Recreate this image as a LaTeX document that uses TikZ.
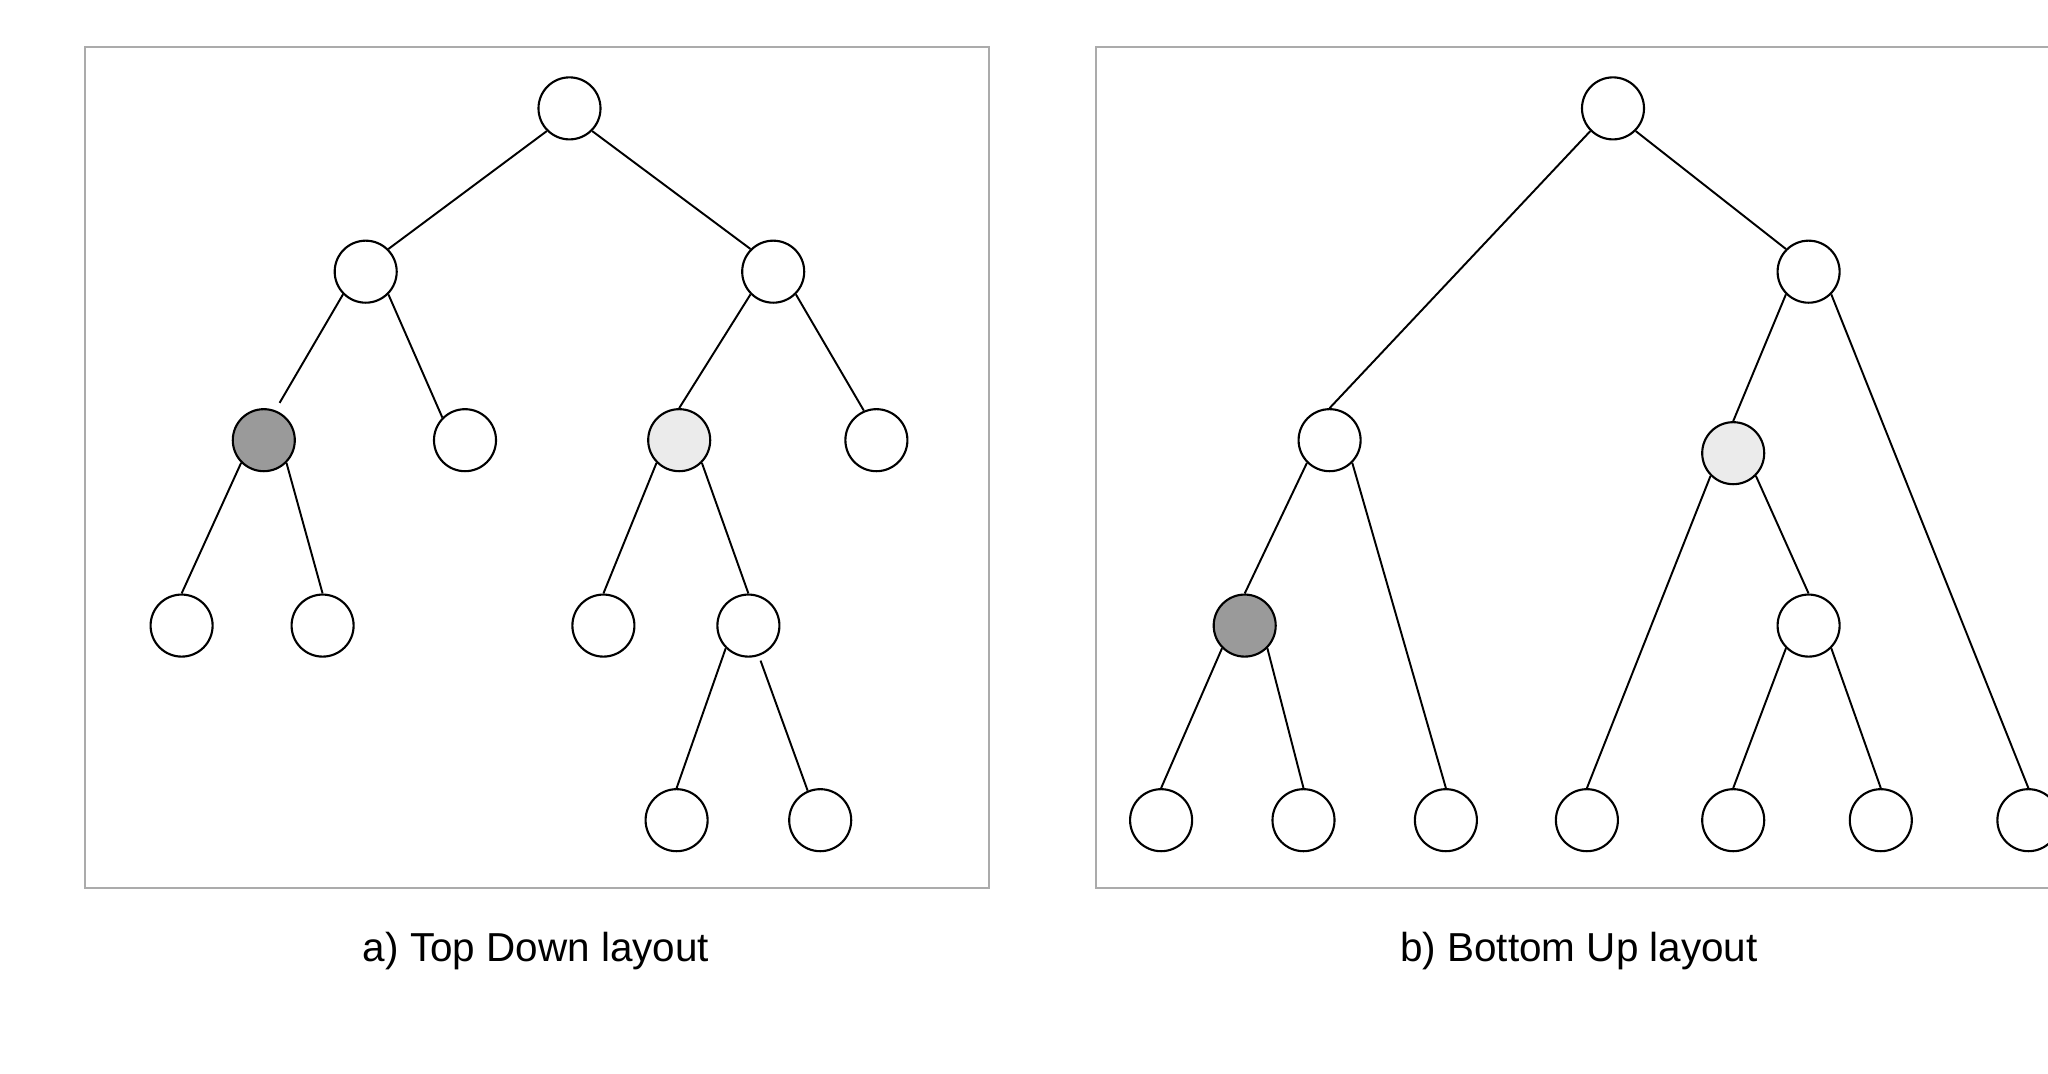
\documentclass[tikz,border=0pt]{standalone}
\usepackage{fontspec}
\setmainfont{Liberation Sans}
\usepackage{xcolor}
\usepackage{tikz}

\definecolor{framegray}{HTML}{ABABAB}
\definecolor{darknode}{HTML}{9A9A9A}
\definecolor{lightnode}{HTML}{EBEBEB}

\begin{document}
\begin{tikzpicture}[x=0.01cm, y=-0.01cm, line width=0.55pt,
        vertex/.style={circle, draw, fill=white, minimum size=0.62cm, inner sep=0pt, line width=0.6pt},
        caption/.style={anchor=base, font=\fontsize{11.5}{14}\selectfont}]
        \useasboundingbox (0,0) rectangle (2048,1074);

        % Frames.
        \draw[framegray, line width=0.45pt] (85,47) rectangle (989,888);
        \draw[framegray, line width=0.45pt] (2060,47) -- (1096,47) -- (1096,888) -- (2060,888);

        % Top down layout.
        \draw (569.5,108.4) node[vertex, anchor=center] (a1) {};
        \draw (365.7,271.7) node[vertex, anchor=center] (a2) {};
        \draw (773.2,271.7) node[vertex, anchor=center] (a3) {};
        \draw (263.8,440.2) node[vertex, anchor=center, fill=darknode] (a4) {};
        \draw (465.0,440.2) node[vertex, anchor=center] (a5) {};
        \draw (679.2,440.2) node[vertex, anchor=center, fill=lightnode] (a6) {};
        \draw (876.4,440.2) node[vertex, anchor=center] (a7) {};
        \draw (181.6,625.6) node[vertex, anchor=center] (a8) {};
        \draw (322.6,625.6) node[vertex, anchor=center] (a9) {};
        \draw (603.4,625.6) node[vertex, anchor=center] (a10) {};
        \draw (748.4,625.6) node[vertex, anchor=center] (a11) {};
        \draw (676.6,820.2) node[vertex, anchor=center] (a12) {};
        \draw (820.2,820.2) node[vertex, anchor=center] (a13) {};
        \draw (a1.south west) -- (a2.north east);
        \draw (a1.south east) -- (a3.north west);
        \draw[shorten >=0.85mm] (a2.south west) -- (a4.69);
        \draw (a2.south east) -- (a5.north west);
        \draw (a3.south west) -- (a6.north);
        \draw (a3.south east) -- (a7.113);
        \draw (a4.south west) -- (a8.north);
        \draw (a4.south east) -- (a9.north);
        \draw (a6.south west) -- (a10.north);
        \draw (a6.south east) -- (a11.north);
        \draw (a11.south west) -- (a12.north);
        \draw[shorten <=0.5mm] (a11.289) -- (a13.113);

        % Bottom up layout.
        \draw (1613.0,108.4) node[vertex, anchor=center] (b1) {};
        \draw (1808.6,271.7) node[vertex, anchor=center] (b2) {};
        \draw (1329.6,440.2) node[vertex, anchor=center] (b3) {};
        \draw (1733.2,453.2) node[vertex, anchor=center, fill=lightnode] (b4) {};
        \draw (1244.7,625.6) node[vertex, anchor=center, fill=darknode] (b5) {};
        \draw (1808.6,625.6) node[vertex, anchor=center] (b6) {};
        \draw (1161.1,820.2) node[vertex, anchor=center] (b7) {};
        \draw (1303.5,820.2) node[vertex, anchor=center] (b8) {};
        \draw (1445.9,820.2) node[vertex, anchor=center] (b9) {};
        \draw (1586.9,820.2) node[vertex, anchor=center] (b10) {};
        \draw (1733.2,820.2) node[vertex, anchor=center] (b11) {};
        \draw (1880.8,820.2) node[vertex, anchor=center] (b12) {};
        \draw (2028.4,820.2) node[vertex, anchor=center] (b13) {};
        \draw (b1.south west) -- (b3.north);
        \draw (b1.south east) -- (b2.north west);
        \draw (b3.south west) -- (b5.north);
        \draw (b3.south east) -- (b9.north);
        \draw (b5.south west) -- (b7.north);
        \draw (b5.south east) -- (b8.north);
        \draw (b2.south west) -- (b4.north);
        \draw (b2.south east) -- (b13.north);
        \draw (b4.south west) -- (b10.north);
        \draw (b4.south east) -- (b6.north);
        \draw (b6.south west) -- (b11.north);
        \draw (b6.south east) -- (b12.north);

        % Captions.
        \draw (536,962) node[caption] (capa) {a) Top Down layout};
        \draw (1579,962) node[caption] (capb) {b) Bottom Up layout};
    \end{tikzpicture}
\end{document}
